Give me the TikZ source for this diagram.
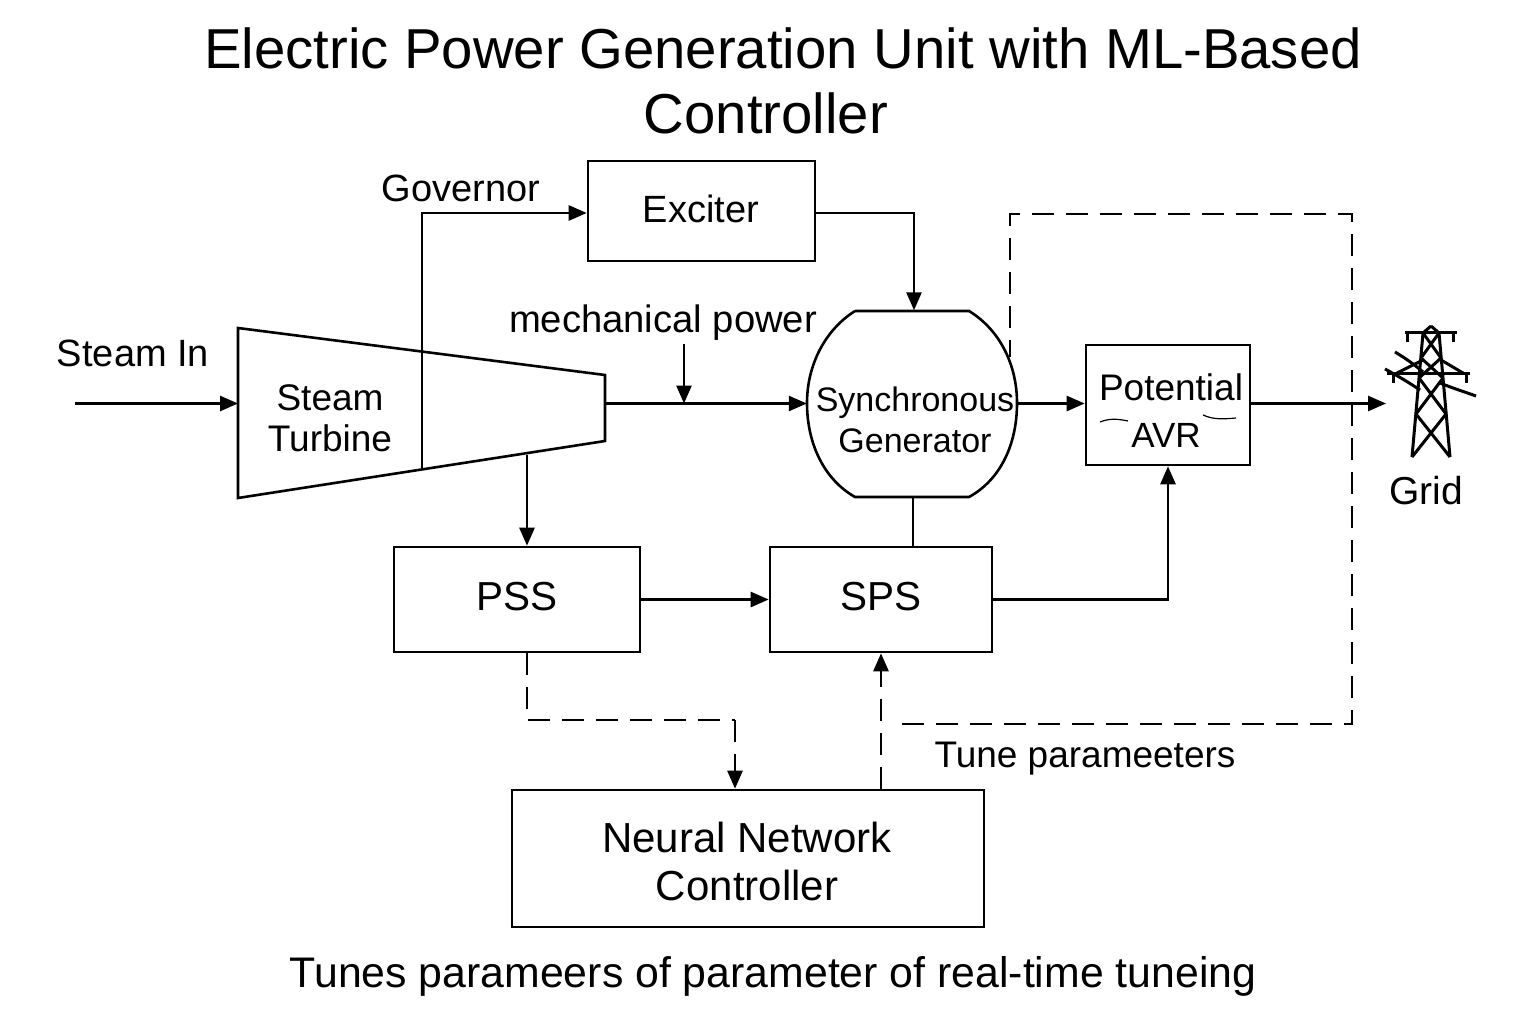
\documentclass[tikz,border=0pt]{standalone}
\usepackage{fontspec}
\setmainfont{Liberation Sans}
\usetikzlibrary{arrows.meta}
\newcommand{\fsz}[2]{\fontsize{#1}{#2}\selectfont}
\tikzset{
  blockbox/.style={draw=black, line width=2.6pt, inner sep=0pt, align=center},
  lbl/.style={inner sep=0pt, align=center, text=black},
  sigline/.style={line width=2.6pt, -{Triangle[length=18pt,width=15pt]}},
  plainline/.style={line width=2.6pt},
  dashline/.style={line width=2.6pt, dash pattern=on 22pt off 12pt},
  towerline/.style={line width=3pt},
}
\begin{document}
\begin{tikzpicture}[x=1pt,y=-1pt]
\useasboundingbox (0,0) rectangle (1536,1024);
\node[lbl, font=\fsz{56.3}{60}] (titleone) at (783,48) {Electric Power Generation Unit with ML-Based};
\node[lbl, font=\fsz{56.3}{60}] (titletwo) at (766,113) {Controller};
\node[blockbox, minimum width=227pt, minimum height=100pt] (exciter) at (701.5,211) {};
\node[lbl, font=\fsz{38}{38}] (exciterlabel) at (701,209) {Exciter};
\node[blockbox, minimum width=246pt, minimum height=105pt] (pss) at (517,599.5) {};
\node[lbl, font=\fsz{40.5}{40}] (psslabel) at (517,597) {PSS};
\node[blockbox, minimum width=222pt, minimum height=105pt] (sps) at (881,599.5) {};
\node[lbl, font=\fsz{40.5}{40}] (spslabel) at (881,597) {SPS};
\node[blockbox, minimum width=472pt, minimum height=137pt] (neural) at (748,858.5) {};
\node[lbl, font=\fsz{42}{48}] (neurallabel) at (747,861) {Neural Network\\Controller};
\node[blockbox, minimum width=164pt, minimum height=120pt] (avr) at (1168,405) {};
\node[lbl, font=\fsz{37}{37}] (potential) at (1171,387) {Potential};
\node[lbl, font=\fsz{35}{35}] (avrlabel) at (1166,435) {AVR};
\node[inner sep=0pt, minimum width=210pt, minimum height=186pt] (gen) at (912,403.5) {};
\draw[plainline] (855,311) -- (969,311) .. controls (1000,330) and (1017,365) .. (1017,403) .. controls (1017,445) and (1000,480) .. (969,497) -- (855,497) .. controls (825,480) and (807,445) .. (807,403) .. controls (807,365) and (825,330) .. (855,311);
\node[lbl, font=\fsz{34}{41}] (genlabel) at (915,420) {Synchronous\\Generator};
\draw[plainline, line join=miter] (238,328) -- (605,375) -- (605,441) -- (238,498) -- cycle;
\node[lbl, font=\fsz{37}{41}] (turbine) at (330,418) {Steam\\Turbine};
\coordinate (steamstart) at (75,403.5);
\coordinate (turbinein) at (238,403.5);
\coordinate (turbineout) at (605,403.5);
\coordinate (govstart) at (422,468);
\coordinate (govbend) at (422,213);
\coordinate (mechtop) at (684,344);
\coordinate (mechend) at (684,403.5);
\coordinate (pssfeed) at (527,455);
\coordinate (gridend) at (1386,403.5);
\coordinate (tunestart) at (902,724);
\coordinate (tunecorner) at (1352,724);
\coordinate (tunetop) at (1352,214);
\coordinate (tuneleft) at (1010,214);
\coordinate (tuneend) at (1010,357);
\coordinate (pssbend) at (527,720);
\coordinate (nnbend) at (735,720);
\node[lbl, font=\fsz{38}{38}] (steamin) at (133,353) {Steam In};
\node[lbl, font=\fsz{38}{38}] (governor) at (461,188) {Governor};
\node[lbl, font=\fsz{38.2}{38}] (mechpower) at (663,323) {mechanical power};
\node[lbl, font=\fsz{39}{39}] (gridlabel) at (1426,491) {Grid};
\node[lbl, font=\fsz{37}{37}] (tunelabel) at (1085,759) {Tune parameeters};
\node[lbl, font=\fsz{42.8}{43}] (footer) at (773,976) {Tunes parameers of parameter of real-time tuneing};
\draw[sigline] (steamstart) -- (turbinein);
\draw[sigline] (turbineout) -- (gen.west);
\draw[sigline] (mechtop) -- (mechend);
\draw[sigline] (govstart) -- (govbend) -- ([yshift=-2pt]exciter.west);
\draw[sigline] ([yshift=-2pt]exciter.east) -| ([xshift=2pt]gen.north);
\draw[sigline] (pssfeed) -- (pssfeed |- pss.north);
\draw[sigline] (pss.east) -- (sps.west);
\draw[sigline] (sps.east) -| (avr.south);
\draw[plainline] ([xshift=1pt]gen.south) -- ([xshift=1pt]gen.south |- sps.north);
\draw[sigline] (gen.east) -- (gen.east -| avr.west);
\draw[sigline] (gen.east -| avr.east) -- (gridend);
\draw[dashline] (tunestart) -- (tunecorner) -- (tunetop) -- (tuneleft) -- (tuneend);
\draw[dashline, -{Triangle[length=18pt,width=15pt]}] (neural.north -| sps.south) -- (sps.south);
\draw[dashline] (pssfeed |- pss.south) -- (pssbend) -- (nnbend);
\draw[dashline, -{Triangle[length=18pt,width=15pt]}] (nnbend) -- (nnbend |- neural.north);
\draw[line width=1.2pt] (1100,422) .. controls (1110,418) and (1118,419) .. (1128,421);
\draw[line width=1.2pt] (1203,415) .. controls (1214,420) and (1224,419) .. (1236,418);
\draw[towerline] (1405,332) -- (1457,332) (1407,332) -- (1407,342) (1453,332) -- (1453,342);
\draw[towerline] (1431,326) -- (1423,333) (1431,326) -- (1439,333);
\draw[towerline] (1423,333) -- (1412,457) (1439,333) -- (1450,457);
\draw[towerline] (1387,373) -- (1470,373) (1393,373) -- (1393,383) (1466,373) -- (1466,383);
\draw[towerline] (1397,373) -- (1423,360) (1463,373) -- (1441,360);
\draw[towerline] (1423,333) -- (1441,358) (1439,333) -- (1421,358);
\draw[towerline] (1421,358) -- (1443,378) (1441,358) -- (1419,378);
\draw[towerline] (1419,378) -- (1446,414) (1443,378) -- (1416,414);
\draw[towerline] (1416,414) -- (1450,457) (1446,414) -- (1412,457);
\draw[towerline] (1395,352) .. controls (1405,358) and (1415,365) .. (1423,372);
\draw[towerline] (1385,369) .. controls (1398,376) and (1408,382) .. (1420,390);
\draw[towerline] (1440,383) .. controls (1452,388) and (1465,392) .. (1476,396);
\end{tikzpicture}
\end{document}
